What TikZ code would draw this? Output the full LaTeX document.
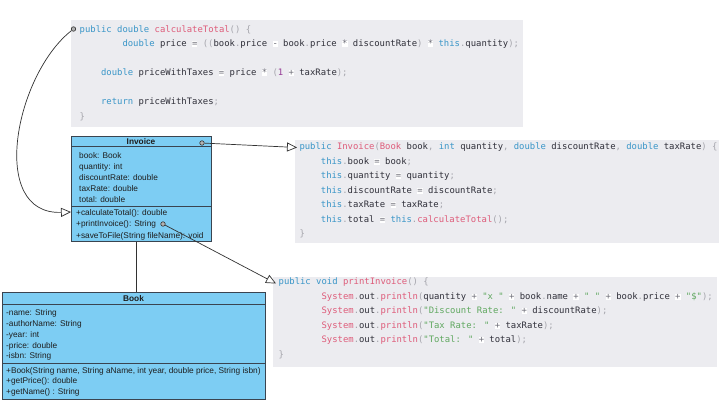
\documentclass[tikz,border=0pt]{standalone}
\usepackage{fontspec}
\setmainfont{Liberation Sans}
\newfontfamily\codefont{DejaVu Sans Mono}
\usetikzlibrary{arrows.meta}
\definecolor{kwc}{RGB}{58,150,200}
\definecolor{fnc}{RGB}{222,92,122}
\definecolor{idc}{RGB}{48,48,58}
\definecolor{pnc}{RGB}{165,165,172}
\definecolor{opc}{RGB}{110,110,120}
\definecolor{stc}{RGB}{96,168,96}
\definecolor{nuc}{RGB}{150,60,150}
\definecolor{codebg}{RGB}{236,236,240}
\definecolor{umlfill}{RGB}{125,205,243}
\definecolor{umlborder}{RGB}{58,68,80}
\definecolor{linec}{RGB}{50,50,50}
\definecolor{umltext}{RGB}{30,30,30}
\newcommand\cKw[1]{\textcolor{kwc}{#1}}
\newcommand\cFn[1]{\textcolor{fnc}{#1}}
\newcommand\cId[1]{\textcolor{idc}{#1}}
\newcommand\cPn[1]{\textcolor{pnc}{#1}}
\newcommand\cSt[1]{\textcolor{stc}{#1}}
\newcommand\cNu[1]{\textcolor{nuc}{#1}}
\newcommand\cOp[1]{\rlap{\textcolor{white}{\rule[-0.5pt]{0.6em}{6pt}}}\textcolor{opc}{#1}}
\newcommand\codefnt{\codefont\fontsize{8.9}{10}\selectfont}
\newcommand\umlfnt{\fontsize{8.3}{10}\selectfont}
\begin{document}
\begin{tikzpicture}[x=1pt,y=-1pt,
  codeline/.style={anchor=base west, inner sep=0pt, font=\codefnt},
  codebox/.style={fill=codebg, draw=none, anchor=north west, inner sep=0pt},
  umlbox/.style={fill=umlfill, draw=umlborder, line width=0.9pt, anchor=north west, inner sep=0pt},
  umlsep/.style={draw=umlborder, line width=0.9pt},
  umlline/.style={anchor=base west, inner sep=0pt, font=\umlfnt, text=umltext},
  umlhead/.style={anchor=base, inner sep=0pt, font=\umlfnt\bfseries, text=umltext},
  port/.style={circle, draw=linec, fill=gray!60, inner sep=0pt, minimum size=4.5pt, line width=0.6pt},
  conn/.style={draw=linec, line width=0.7pt, -{Triangle[length=10pt,width=9pt,fill=white]}},
  plain/.style={draw=linec, line width=0.8pt}]
\fill[white] (0,0) rectangle (728,407);
\useasboundingbox (0,0) rectangle (728,407);

% ---------- code box 1 ----------
\node[codebox, minimum width=452pt, minimum height=107pt] (code1) at (71,20) {};
\node[codeline] (a1) at (79.5,32) {\cKw{public} \cKw{double} \cFn{calculateTotal}\cPn{() \{}};
\node[codeline] (a2) at (122.3,46.5) {\cKw{double} \cId{price} \cOp{=} \cPn{((}\cId{book}\cPn{.}\cId{price} \cOp{-} \cId{book}\cPn{.}\cId{price} \cOp{*} \cId{discountRate}\cPn{)} \cOp{*} \cKw{this}\cPn{.}\cId{quantity}\cPn{);}};
\node[codeline] (a3) at (100.9,75.5) {\cKw{double} \cId{priceWithTaxes} \cOp{=} \cId{price} \cOp{*} \cPn{(}\cNu{1} \cOp{+} \cId{taxRate}\cPn{);}};
\node[codeline] (a4) at (100.9,104.5) {\cKw{return} \cId{priceWithTaxes}\cPn{;}};
\node[codeline] (a5) at (79.5,119) {\cPn{\}}};

% ---------- code box 2 ----------
\node[codebox, minimum width=424pt, minimum height=103pt] (code2) at (295,140) {};
\node[codeline] (b1) at (299.3,149.5) {\cKw{public} \cFn{Invoice}\cPn{(}\cFn{Book} \cId{book}\cPn{,} \cKw{int} \cId{quantity}\cPn{,} \cKw{double} \cId{discountRate}\cPn{,} \cKw{double} \cId{taxRate}\cPn{) \{}};
\node[codeline] (b2) at (320.7,164) {\cKw{this}\cPn{.}\cId{book} \cOp{=} \cId{book}\cPn{;}};
\node[codeline] (b3) at (320.7,178.5) {\cKw{this}\cPn{.}\cId{quantity} \cOp{=} \cId{quantity}\cPn{;}};
\node[codeline] (b4) at (320.7,193) {\cKw{this}\cPn{.}\cId{discountRate} \cOp{=} \cId{discountRate}\cPn{;}};
\node[codeline] (b5) at (320.7,207.5) {\cKw{this}\cPn{.}\cId{taxRate} \cOp{=} \cId{taxRate}\cPn{;}};
\node[codeline] (b6) at (320.7,222) {\cKw{this}\cPn{.}\cId{total} \cOp{=} \cKw{this}\cPn{.}\cFn{calculateTotal}\cPn{();}};
\node[codeline] (b7) at (299.3,236.5) {\cPn{\}}};

% ---------- code box 3 ----------
\node[codebox, minimum width=444pt, minimum height=90pt] (code3) at (273,277) {};
\node[codeline] (c1) at (278.5,284.5) {\cKw{public} \cKw{void} \cFn{printInvoice}\cPn{() \{}};
\node[codeline] (c2) at (321.4,299) {\cFn{System}\cPn{.}\cId{out}\cPn{.}\cFn{println}\cPn{(}\cId{quantity} \cOp{+} \cSt{"x "} \cOp{+} \cId{book}\cPn{.}\cId{name} \cOp{+} \cSt{" "} \cOp{+} \cId{book}\cPn{.}\cId{price} \cOp{+} \cSt{"\$"}\cPn{);}};
\node[codeline] (c3) at (321.4,313.5) {\cFn{System}\cPn{.}\cId{out}\cPn{.}\cFn{println}\cPn{(}\cSt{"Discount Rate: "} \cOp{+} \cId{discountRate}\cPn{);}};
\node[codeline] (c4) at (321.4,328) {\cFn{System}\cPn{.}\cId{out}\cPn{.}\cFn{println}\cPn{(}\cSt{"Tax Rate: "} \cOp{+} \cId{taxRate}\cPn{);}};
\node[codeline] (c5) at (321.4,342.5) {\cFn{System}\cPn{.}\cId{out}\cPn{.}\cFn{println}\cPn{(}\cSt{"Total: "} \cOp{+} \cId{total}\cPn{);}};
\node[codeline] (c6) at (278.5,357) {\cPn{\}}};

% ---------- Invoice class ----------
\node[umlbox, minimum width=140pt, minimum height=105pt] (inv) at (71,136) {};
\draw[umlsep] ([yshift=-10.7pt]inv.north west) -- ([yshift=-10.7pt]inv.north east);
\draw[umlsep] ([yshift=-70.7pt]inv.north west) -- ([yshift=-70.7pt]inv.north east);
\node[umlhead] (invh) at (141,144.2) {Invoice};
\node[umlline] (i1) at (79,158) {book: Book};
\node[umlline] (i2) at (79,169.2) {quantity: int};
\node[umlline] (i3) at (79,180.4) {discountRate: double};
\node[umlline] (i4) at (79,191.6) {taxRate: double};
\node[umlline] (i5) at (79,202.8) {total: double};
\node[umlline] (i6) at (76,215) {+calculateTotal(): double};
\node[umlline] (i7) at (76,226.8) {+printInvoice(): String};
\node[umlline] (i8) at (76,238) {+saveToFile(String fileName): void};

% ---------- Book class ----------
\node[umlbox, minimum width=263pt, minimum height=107pt] (book) at (2,292) {};
\draw[umlsep] ([yshift=-12.3pt]book.north west) -- ([yshift=-12.3pt]book.north east);
\draw[umlsep] ([yshift=-71.3pt]book.north west) -- ([yshift=-71.3pt]book.north east);
\node[umlhead] (bookh) at (133.5,301.3) {Book};
\node[umlline] (k1) at (6,315.7) {-name: String};
\node[umlline] (k2) at (6,326.5) {-authorName: String};
\node[umlline] (k3) at (6,337.3) {-year: int};
\node[umlline] (k4) at (6,348.1) {-price: double};
\node[umlline] (k5) at (6,358.9) {-isbn: String};
\node[umlline] (k6) at (6,373) {+Book(String name, String aName, int year, double price, String isbn)};
\node[umlline] (k7) at (6,383.8) {+getPrice(): double};
\node[umlline] (k8) at (6,394.6) {+getName() : String};

% ---------- association Invoice -- Book ----------
\draw[plain] ([xshift=-5pt]inv.south) -- ([xshift=-5pt]inv.south |- book.north);

% ---------- ports and connectors ----------
\node[port] (p1) at (73.5,29) {};
\node[port] (p2) at (202,143) {};
\node[port] (p3) at (163,224) {};
\coordinate (t1) at (71,212);
\coordinate (t2) at (297,147.5);
\coordinate (t3) at (276,283.5);
\draw[conn] (p1) .. controls (15,75) and (-12,215) .. (t1);
\draw[conn] (p2) -- (t2);
\draw[conn] (p3) -- (t3);
\end{tikzpicture}
\end{document}
